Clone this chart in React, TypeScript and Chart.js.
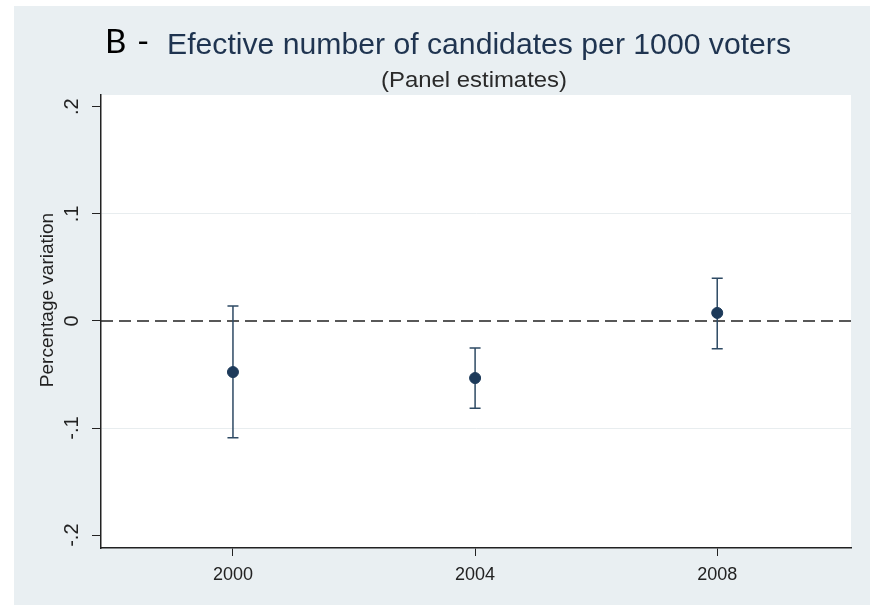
import { useEffect, useRef } from "react";
import { Chart, registerables } from "chart.js";

Chart.register(...registerables);

// ---- data ----
const years = [2000, 2004, 2008];
const estimates = [-0.0477, -0.0533, 0.0075];
const upperCI = [0.014, -0.0252, 0.04];
const lowerCI = [-0.109, -0.0816, -0.026];
const xTicks = [2000, 2004, 2008];
const yTicks = [-0.2, -0.1, 0, 0.1, 0.2];
const yTickLabels = ["-.2", "-.1", "0", ".1", ".2"];
const gridValues = [-0.1, 0.1];
const referenceValue = 0;
const xRange = [1997.82, 2010.21];
const yRange = [-0.212, 0.211];

const panelLetter = "B";
const panelDash = "-";
const titleText = "Efective number of candidates per 1000 voters";
const subtitleText = "(Panel estimates)";
const yTitle = "Percentage variation";

const PANEL_BG = "#e9eff2";
const NAVY = "#1d3a5a";
const BAR = "#2e4a64";
const SANS = "'Liberation Sans', Arial, sans-serif";

const backgroundPlugin = {
  id: "bgPanel",
  beforeDraw(chart: any) {
    const { ctx, chartArea } = chart;
    ctx.save();
    ctx.fillStyle = "#ffffff";
    ctx.fillRect(0, 0, chart.width, chart.height);
    ctx.fillStyle = PANEL_BG;
    ctx.fillRect(14, 6, 856, 599);
    ctx.fillStyle = "#ffffff";
    ctx.fillRect(chartArea.left, chartArea.top, chartArea.right - chartArea.left, chartArea.bottom - chartArea.top);
    ctx.restore();
  },
};

function stretchedText(ctx: any, text: string, x: number, y: number, width: number, align: "left" | "center") {
  const w = ctx.measureText(text).width;
  const sx = width / w;
  ctx.save();
  ctx.translate(align === "center" ? x - width / 2 : x, y);
  ctx.scale(sx, 1);
  ctx.textAlign = "left";
  ctx.fillText(text, 0, 0);
  ctx.restore();
}

const titlePlugin = {
  id: "titles",
  afterDraw(chart: any) {
    const { ctx } = chart;
    ctx.save();
    ctx.textBaseline = "alphabetic";
    ctx.textAlign = "left";
    ctx.fillStyle = "#000000";
    ctx.font = "33px Lato, 'Open Sans', sans-serif";
    ctx.fillText(panelLetter, 105, 53);
    ctx.fillText(panelDash, 137, 53);
    ctx.fillStyle = "#1f3450";
    ctx.font = "29px " + SANS;
    stretchedText(ctx, titleText, 167, 54, 624, "left");
    ctx.fillStyle = "#2a2a2a";
    ctx.font = "22.5px " + SANS;
    stretchedText(ctx, subtitleText, 474, 87, 186, "center");
    // y axis title
    ctx.translate(48, 300);
    ctx.rotate(-Math.PI / 2);
    ctx.font = "19px " + SANS;
    ctx.fillStyle = "#222222";
    ctx.textAlign = "center";
    ctx.textBaseline = "middle";
    ctx.fillText(yTitle, 0, 0);
    ctx.restore();
  },
};

const errorBarPlugin = {
  id: "errorBars",
  beforeDatasetsDraw(chart: any) {
    const { ctx, chartArea } = chart;
    const xs = chart.scales.x;
    const ys = chart.scales.y;
    ctx.save();
    // reference dashed line
    const y0 = ys.getPixelForValue(referenceValue);
    ctx.strokeStyle = "#222222";
    ctx.lineWidth = 1.6;
    ctx.setLineDash([12, 6]);
    ctx.beginPath();
    ctx.moveTo(chartArea.left, y0);
    ctx.lineTo(chartArea.right, y0);
    ctx.stroke();
    ctx.setLineDash([]);
    // error bars
    ctx.strokeStyle = BAR;
    ctx.lineWidth = 1.5;
    years.forEach((yr, i) => {
      const x = xs.getPixelForValue(yr);
      const yh = ys.getPixelForValue(upperCI[i]);
      const yl = ys.getPixelForValue(lowerCI[i]);
      ctx.beginPath();
      ctx.moveTo(x, yh);
      ctx.lineTo(x, yl);
      ctx.moveTo(x - 5.5, yh);
      ctx.lineTo(x + 5.5, yh);
      ctx.moveTo(x - 5.5, yl);
      ctx.lineTo(x + 5.5, yl);
      ctx.stroke();
    });
    ctx.restore();
  },
};

export default function App() {
  const ref = useRef<HTMLCanvasElement | null>(null);
  useEffect(() => {
    if (!ref.current) return;
    const chart = new Chart(ref.current, {
      type: "scatter",
      data: {
        datasets: [
          {
            label: "Estimate",
            data: years.map((yr, i) => ({ x: yr, y: estimates[i] })),
            backgroundColor: NAVY,
            borderColor: NAVY,
            pointRadius: 5.5,
            pointHoverRadius: 5.5,
            showLine: false,
          },
        ],
      },
      options: {
        animation: false,
        responsive: false,
        layout: { padding: { left: 14, right: 25, top: 95, bottom: 0 } },
        plugins: {
          legend: { display: false },
          tooltip: { enabled: false },
          title: { display: false },
        },
        scales: {
          x: {
            type: "linear",
            min: xRange[0],
            max: xRange[1],
            afterBuildTicks: (scale: any) => {
              scale.ticks = xTicks.map((v) => ({ value: v }));
            },
            afterFit: (scale: any) => {
              scale.height = 57;
            },
            grid: {
              drawOnChartArea: false,
              color: "#222222",
              tickColor: "#222222",
              tickLength: 8,
              lineWidth: 1,
            },
            border: { color: "#222222", width: 1.5 },
            ticks: {
              color: "#222222",
              font: { family: SANS, size: 18 },
              padding: 8,
              maxRotation: 0,
              callback: (v: any) => String(v),
            },
          },
          y: {
            type: "linear",
            min: yRange[0],
            max: yRange[1],
            afterBuildTicks: (scale: any) => {
              scale.ticks = yTicks.map((v) => ({ value: v }));
            },
            afterFit: (scale: any) => {
              scale.width = 87;
            },
            grid: {
              color: (c: any) =>
                c.tick && gridValues.some((g) => Math.abs(g - c.tick.value) < 1e-9) ? "#e8edef" : "rgba(0,0,0,0)",
              tickColor: "#222222",
              tickLength: 9,
              lineWidth: 1,
            },
            border: { color: "#222222", width: 1.5 },
            ticks: {
              color: "#222222",
              font: { family: SANS, size: 20 },
              padding: 8,
              minRotation: 90,
              maxRotation: 90,
              crossAlign: "center",
              callback: (v: any) => {
                const idx = yTicks.findIndex((t) => Math.abs(t - v) < 1e-9);
                return idx >= 0 ? yTickLabels[idx] : "";
              },
            },
          },
        },
      },
      plugins: [backgroundPlugin, errorBarPlugin, titlePlugin],
    } as any);
    return () => chart.destroy();
  }, []);
  return (
    <div style={{ position: "absolute", left: 0, top: 0, width: 876, height: 605 }}>
      <canvas ref={ref} width={876} height={605} />
    </div>
  );
}
